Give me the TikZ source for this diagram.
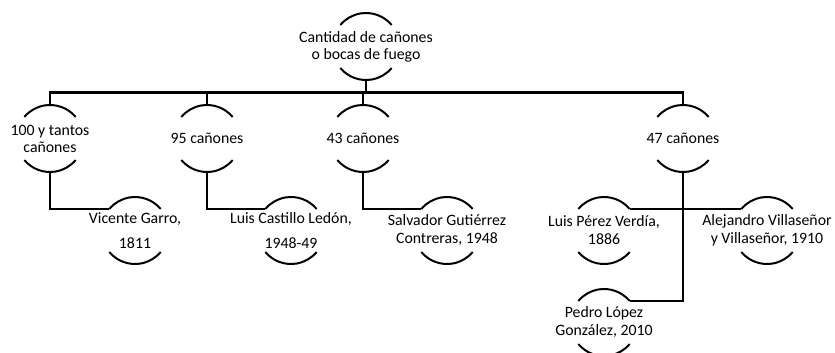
\documentclass[tikz,border=0pt]{standalone}
\usepackage{fontspec}
\setmainfont{Carlito}
\begin{document}
\begin{tikzpicture}[x=1pt,y=-1pt,
  lbl/.style={inner sep=0pt, align=center, font=\fontsize{15.8}{18}\selectfont},
  conn/.style={line width=2.5pt, line join=miter},
  arcl/.style={line width=2pt}]
\useasboundingbox (0,0) rectangle (835,353);
% nodes
\node[lbl] (root) at (366,46.5) {Cantidad de cañones\\[-1pt]o bocas de fuego};
\node[lbl] (A) at (50,138.5) {100 y tantos\\[-1pt]cañones};
\node[lbl] (B) at (207,138.5) {95 cañones};
\node[lbl] (C) at (363,138.5) {43 cañones};
\node[lbl] (D) at (683,138.5) {47 cañones};
\node[lbl] (A1) at (135,230.5) {Vicente Garro,\\[7pt]1811};
\node[lbl] (B1) at (291,230.5) {Luis Castillo Ledón,\\[7pt]1948-49};
\node[lbl] (C1) at (447,230.5) {Salvador Gutiérrez\\Contreras, 1948};
\node[lbl] (D1) at (604,230.5) {Luis Pérez Verdía,\\1886};
\node[lbl] (D2) at (767,230.5) {Alejandro Villaseñor\\y Villaseñor, 1910};
\node[lbl] (D3) at (604,322.5) {Pedro López\\González, 2010};
% arcs and anchor coordinates
\foreach \n in {root,A,B,C,D,A1,B1,C1,D1,D2,D3}{
  \path (\n.center) +(90:33.5pt) coordinate (\n-t)
                    +(270:33.5pt) coordinate (\n-b)
                    +(40:33.5pt) coordinate (\n-tr)
                    +(140:33.5pt) coordinate (\n-tl);
  \draw[arcl] (\n.center) ++(40:33.5pt) arc[start angle=40,end angle=140,radius=33.5pt]
              (\n.center) ++(220:33.5pt) arc[start angle=220,end angle=320,radius=33.5pt];
}
% bus
\coordinate (bus) at (366,92.5);
\draw[conn] (root-b) -- (bus);
\draw[conn] (A-t) |- (bus) -| (D-t);
\draw[conn] (B-t) -- (B-t |- bus);
\draw[conn] (C-t) -- (C-t |- bus);
% level 2
\draw[conn] (A-b) |- (A1-tl);
\draw[conn] (B-b) |- (B1-tl);
\draw[conn] (C-b) |- (C1-tl);
\draw[conn] (D-b) |- (D3-tr);
\draw[conn] (D1-tr) -- (D2-tl);
\end{tikzpicture}
\end{document}
